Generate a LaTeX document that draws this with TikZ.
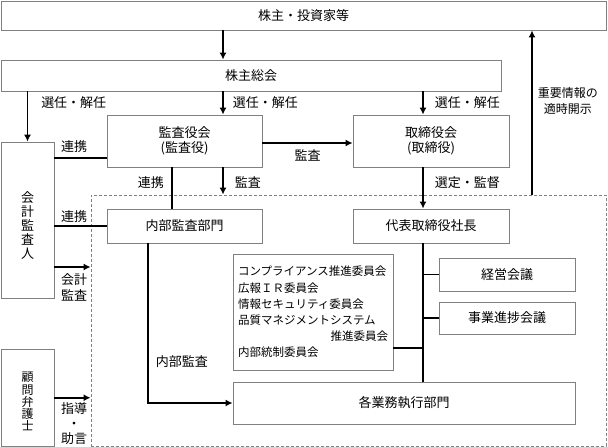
\documentclass[tikz,border=0pt]{standalone}
\usepackage{fontspec}
\setmainfont{Noto Sans CJK JP}
\usetikzlibrary{arrows.meta,positioning}

\begin{document}
\begin{tikzpicture}[x=1pt,y=-1pt,>={Latex[length=7pt,width=7pt]},
    box/.style={draw=black!50,line width=0.8pt,inner sep=0,align=center,
      font=\fontsize{13}{15}\selectfont},
    lbl/.style={inner sep=0,align=center,font=\fontsize{13}{16}\selectfont},
    flow/.style={line width=1.5pt}]
  \useasboundingbox (0,0) rectangle (608,447);
  \coordinate (midx) at (223,0);
  \coordinate (rightx) at (423,0);
  \coordinate (discx) at (532,0);
  \coordinate (linkx) at (172,0);
  \coordinate (auditx) at (148,0);
  % boxes
  \node[draw=black!50,dashed,dash pattern=on 3pt off 2pt,line width=0.8pt,
    minimum width=515pt,minimum height=251pt] (frame) at (348.5,320.5) {};
  \node[box,minimum width=605pt,minimum height=29pt] (investors) at (303.5,15.5) {株主・投資家等};
  \node[box,minimum width=500pt,minimum height=31pt] (meeting) at (251,75.5) {株主総会};
  \node[box,minimum width=53pt,minimum height=156pt,
    label={[lbl,yshift=-6pt,font=\fontsize{13}{14}\selectfont]center:会\\計\\監\\査\\人}] (auditor) at (27.5,220) {};
  \node[box,minimum width=53pt,minimum height=97.5pt,
    label={[lbl,yshift=-4pt,font=\fontsize{12}{12.3}\selectfont]center:顧\\問\\弁\\護\\士}] (lawyer) at (27.5,397.75) {};
  \node[box,minimum width=155pt,minimum height=52pt] (kansa) at (184.5,141) {監査役会\\(監査役)};
  \node[box,minimum width=156pt,minimum height=52pt] (board) at (431,141) {取締役会\\(取締役)};
  \node[box,minimum width=155pt,minimum height=34pt] (internal) at (184.5,226) {内部監査部門};
  \node[box,minimum width=156pt,minimum height=34pt] (president) at (431,226) {代表取締役社長};
  \node[box,minimum width=160pt,minimum height=116pt,align=left,text width=150pt,
    font=\fontsize{11.5}{16.2}\selectfont] (committees) at (313,312) {コンプライアンス推進委員会\\
    広報ＩＲ委員会\\
    情報セキュリティ委員会\\
    品質マネジメントシステム\\
    \hspace*{\fill}推進委員会\\
    内部統制委員会};
  \node[box,minimum width=136pt,minimum height=33pt] (mgmt) at (507,274.5) {経営会議};
  \node[box,minimum width=136pt,minimum height=32pt] (progress) at (507,318) {事業進捗会議};
  \node[box,minimum width=342pt,minimum height=42pt] (execution) at (404,403) {各業務執行部門};
  % connectors
  \draw[flow,->] (investors.south -| midx) -- (meeting.north -| midx);
  \draw[flow,->] (meeting.south -| auditor) -- node[lbl,pos=.22,right=13pt] {選任・解任} (auditor.north);
  \draw[flow,->] (meeting.south -| midx) -- node[lbl,right=9pt] {選任・解任} (kansa.north -| midx);
  \draw[flow,->] (meeting.south -| rightx) -- node[lbl,right=11pt] {選任・解任} (board.north -| rightx);
  \draw[flow,->] ([yshift=-2pt]kansa.east) -- node[lbl,below=6pt] {監査} ([yshift=-2pt]board.west);
  \path (kansa.west) ++(0,17) coordinate (k1);
  \draw[flow] (auditor.east |- k1) -- node[lbl,pos=0,above right=5pt and 6pt] {連携} (k1);
  \draw[flow] (auditor.east |- internal.west) -- node[lbl,pos=0,above right=3pt and 6pt] {連携} (internal.west);
  \path (auditor.east) ++(0,47) coordinate (a1);
  \draw[flow,->] (a1) -- node[lbl,pos=0,below right=6pt and 6pt] {会計\\監査} (a1 -| frame.west);
  \draw[flow,->] (lawyer.east) -- node[lbl,pos=0,below right=4pt and 6pt,
    font=\fontsize{13}{15}\selectfont] {指導\\・\\助言} (lawyer.east -| frame.west);
  \draw[flow] (kansa.south -| linkx) -- node[lbl,pos=.36,left=7.5pt] {連携} (internal.north -| linkx);
  \draw[flow,->] (kansa.south -| midx) -- node[lbl,pos=.54,right=11pt] {監査} (frame.north -| midx);
  \draw[flow,->] (board.south -| rightx) -- node[lbl,pos=.36,right=11pt] {選定・監督} (president.north -| rightx);
  \draw[flow,->] (frame.north -| discx) -- node[lbl,pos=.57,right=5pt,
    font=\fontsize{12}{16}\selectfont] {重要情報の\\適時開示} (investors.south -| discx);
  \draw[flow] (president.south -| rightx) -- (execution.north -| rightx);
  \draw[flow] (mgmt.west -| rightx) -- (mgmt.west);
  \draw[flow] (progress.west -| rightx) -- (progress.west);
  \path (committees.east) ++(0,36) coordinate (c1);
  \draw[flow] (c1) -- (c1 -| rightx);
  \draw[flow,->] (internal.south -| auditx) |- node[lbl,pos=.37,right=7pt] {内部監査} (execution.west);
\end{tikzpicture}
\end{document}
